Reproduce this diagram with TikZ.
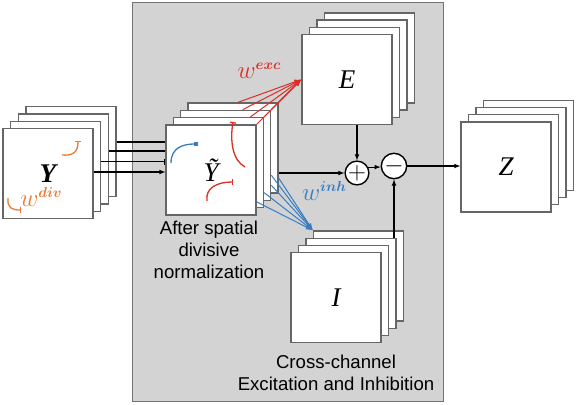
\documentclass[tikz,border=0pt]{standalone}
\usepackage{bm}
\usepackage{fontspec}
\newfontfamily\labelfont{Liberation Sans}
\newfontfamily\letterfont{Liberation Serif}
\usepackage{tikz}
\usetikzlibrary{positioning,arrows.meta}
\definecolor{wred}{RGB}{222, 45, 38}
\definecolor{wblue}{RGB}{55, 125, 195}
\definecolor{worange}{RGB}{236, 122, 48}
\definecolor{panel}{RGB}{211, 211, 211}
\newcommand{\wlabel}[1]{$w$\raisebox{9pt}{\fontsize{14}{14}\selectfont$\bm{#1}$}}
\tikzstyle{card} = [rectangle, draw=black!60, line width=1.3pt, fill=white, minimum width=90pt, minimum height=90pt, inner sep=0pt, on grid, font=\letterfont\itshape\fontsize{27}{27}\selectfont]
\tikzstyle{sumop} = [circle, draw=black, line width=1.4pt, fill=white, minimum size=23pt, inner sep=0pt, font=\fontsize{24}{24}\selectfont]
\tikzstyle{tedge}  = [draw, line width=1.1pt, >=latex, ->]
\tikzstyle{pedge}  = [draw, line width=1.1pt]
\tikzstyle{bedge}  = [draw, line width=1.1pt, -{Bar[width=6pt]}]
\tikzstyle{excedge} = [draw=wred, line width=1pt, -{Latex[length=7pt,width=5pt]}]
\tikzstyle{inhedge} = [draw=wblue, line width=1pt, -{Latex[length=7pt,width=5pt]}]
\tikzstyle{kernel} = [line width=1.3pt]
\tikzstyle{weight} = [inner sep=0pt, font=\fontsize{27}{27}\selectfont]
\tikzstyle{caption} = [align=center, inner sep=0pt, font=\labelfont\fontsize{18.6}{22}\selectfont]

\begin{document}
\begin{tikzpicture}[x=1pt, y=-1pt]
\useasboundingbox (0,0) rectangle (577,404);

% grey panel =============================
\draw[draw=black!55, fill=panel, line width=1pt] (132,3) rectangle (443,401);

% input stack
\node[card] (Y4) at (71,151.6) {};
\node[card, below left=7.3pt and 7.7pt of Y4] (Y3) {};
\node[card, below left=7.3pt and 7.7pt of Y3] (Y2) {};
\node[card, below left=7.3pt and 7.7pt of Y2] (Y1) {\bfseries Y};

% normalized stack
\node[card] (Yt4) at (233,148) {};
\node[card, below left=7.3pt and 7.3pt of Yt4] (Yt3) {};
\node[card, below left=7.3pt and 7.3pt of Yt3] (Yt2) {};
\node[card, below left=7.3pt and 7.3pt of Yt2] (Yt1) {Ỹ};

% excitation stack
\node[card] (E4) at (369.5,57.9) {};
\node[card, below left=7.2pt and 7.5pt of E4] (E3) {};
\node[card, below left=7.2pt and 7.5pt of E3] (E2) {};
\node[card, below left=7.2pt and 7.5pt of E2] (E1) {E};

% inhibition stack
\node[card] (I4) at (358.5,276) {};
\node[card, below left=7.2pt and 7.5pt of I4] (I3) {};
\node[card, below left=7.2pt and 7.5pt of I3] (I2) {};
\node[card, below left=7.2pt and 7.5pt of I2] (I1) {I};

% output stack
\node[card] (Z4) at (528.5,145.4) {};
\node[card, below left=7.2pt and 7.5pt of Z4] (Z3) {};
\node[card, below left=7.2pt and 7.5pt of Z3] (Z2) {};
\node[card, below left=7.2pt and 7.5pt of Z2] (Z1) {Z};

% operations
\node[sumop] (plus) at (357,173) {$+$};
\node[sumop] (minus) at (394,166) {$-$};

% edges input to normalized
\path[pedge] ([yshift=9.6pt]Y4.east) -- ([yshift=9.6pt]Y4.east -| Yt1.west);
\path[pedge] ([yshift=7.9pt]Y3.east) -- ([yshift=7.9pt]Y3.east -| Yt1.west);
\path[bedge] ([yshift=4.7pt]Y2.east) -- ([yshift=4.7pt]Y2.east -| Yt1.west);
\path[tedge] ([yshift=1.5pt]Y1.east) -- ([yshift=1.5pt]Y1.east -| Yt1.west);

% edges to excitation
\path[excedge] ([xshift=5pt]Yt4.north) -- (E1.west);
\path[excedge] ([xshift=17pt]Yt3.north) -- (E1.west);
\path[excedge] ([xshift=32pt]Yt2.north) -- (E1.west);
\path[excedge] (Yt1.north east) -- (E1.west);
\path[excedge] (Yt2.north east) -- (E1.west);
\path[excedge] (Yt3.north east) -- (E1.west);

% edges to inhibition
\path[inhedge] ([yshift=-32pt]Yt1.east) -- (I4.north west);
\path[inhedge] ([yshift=-30pt]Yt2.east) -- (I4.north west);
\path[inhedge] ([yshift=-30pt]Yt3.east) -- (I4.north west);
\path[inhedge] ([yshift=-20pt]Yt3.east) -- (I4.north west);
\path[inhedge] ([yshift=-30pt]Yt4.east) -- (I4.north west);

% edges through the operations
\path[tedge] (Yt4.east |- plus) -- (plus);
\path[tedge] (plus |- E1.south) -- (plus);
\path[tedge] (minus |- I3.north) -- (minus);
\path[tedge] (plus.28) -- (plus.28 -| minus.west);
\path[tedge] (minus) -- (minus -| Z1.west);

% kernels
\draw[kernel, worange, -{Bar[width=6pt]}] (62,155) .. controls (73,156) and (78,152) .. (78,141);
\draw[kernel, worange, -{Bar[width=6pt]}] (8,198) .. controls (7,208) and (12,210) .. (21,210);
\draw[kernel, wblue, -{Square[length=4pt,width=4pt]}] (171,163) .. controls (171,147) and (184,144) .. (198,144);
\draw[kernel, wred, -{Bar[width=6pt]}] (245,167) .. controls (232,160) and (230,140) .. (233,122);
\draw[kernel, wred, -{Bar[width=6pt]}] (207,201) .. controls (205,188) and (217,182) .. (233,182);

% labels
\node[weight, text=worange, font=\fontsize{23}{23}\selectfont] (wdiv) at (41,197) {\wlabel{div}};
\node[weight, text=wred] (wexc) at (259,71) {\wlabel{exc}};
\node[weight, text=wblue] (winh) at (324,191) {\wlabel{inh}};
\node[caption] (cap1) at (209,250) {After spatial\\divisive\\normalization};
\node[caption] (cap2) at (336,373) {Cross-channel\\Excitation and Inhibition};

\end{tikzpicture}
\end{document}
